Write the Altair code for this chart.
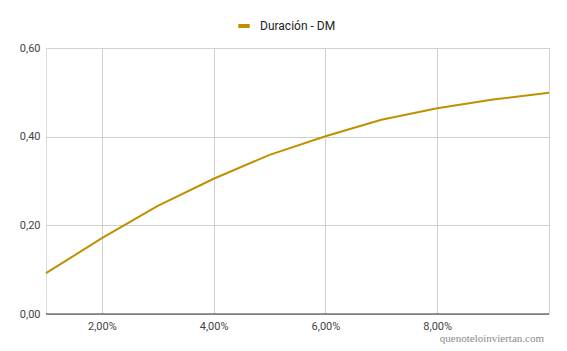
import altair as alt
import pandas as pd

rates = [0.01, 0.02, 0.03, 0.04, 0.05, 0.06, 0.07, 0.08, 0.09, 0.10]
duracion = [0.092, 0.171, 0.244, 0.305, 0.359, 0.401, 0.438, 0.464, 0.484, 0.499]
series_name = "Duración - DM"
watermark = "quenoteloinviertan.com"

df = pd.DataFrame({"tasa": rates, "valor": duracion, "serie": [series_name] * len(rates)})

line = alt.Chart(df).mark_line(strokeWidth=2).encode(
    x=alt.X("tasa:Q",
            scale=alt.Scale(domain=[0.01, 0.10], nice=False, zero=False),
            axis=alt.Axis(values=[0.02, 0.04, 0.06, 0.08, 0.10],
                          labelExpr="datum.value < 0.099 ? replace(format(datum.value * 100, '.2f'), '.', ',') + '%' : ''",
                          title=None, grid=True, gridColor="#d0d0d0", domain=False, ticks=False,
                          labelFont="Roboto", labelFontSize=11, labelColor="#444444", labelPadding=6)),
    y=alt.Y("valor:Q",
            scale=alt.Scale(domain=[0, 0.6], nice=False),
            axis=alt.Axis(values=[0, 0.2, 0.4, 0.6],
                          labelExpr="replace(format(datum.value, '.2f'), '.', ',')",
                          title=None, grid=True, gridColor="#d0d0d0", domain=False, ticks=False,
                          labelFont="Roboto", labelFontSize=11, labelColor="#444444", labelPadding=6)),
    color=alt.Color("serie:N",
                    scale=alt.Scale(range=["#BF9000"]),
                    legend=alt.Legend(title=None, orient="none", legendX=190, legendY=-30,
                                      symbolType="stroke", symbolStrokeWidth=4, symbolSize=130,
                                      labelOffset=8,
                                      labelFont="Roboto", labelFontSize=12, labelColor="#222222")),
)

baseline = alt.Chart(pd.DataFrame({"y": [0]})).mark_rule(color="#333333", strokeWidth=1).encode(y="y:Q")

wm = alt.Chart(pd.DataFrame({"t": [watermark]})).mark_text(
    align="right", baseline="middle", font="Liberation Serif", fontSize=11, color="#8a8a8a"
).encode(text="t:N", x=alt.value(498), y=alt.value(291))

chart = alt.layer(line, baseline, wm).properties(
    width=503, height=266,
    padding={"left": 46, "top": 48, "right": 18, "bottom": 37},
    autosize=alt.AutoSizeParams(type="none"),
).configure_view(stroke=None).configure(background="white")

chart.save("out.html", embed_options={"renderer": "svg", "actions": False})
